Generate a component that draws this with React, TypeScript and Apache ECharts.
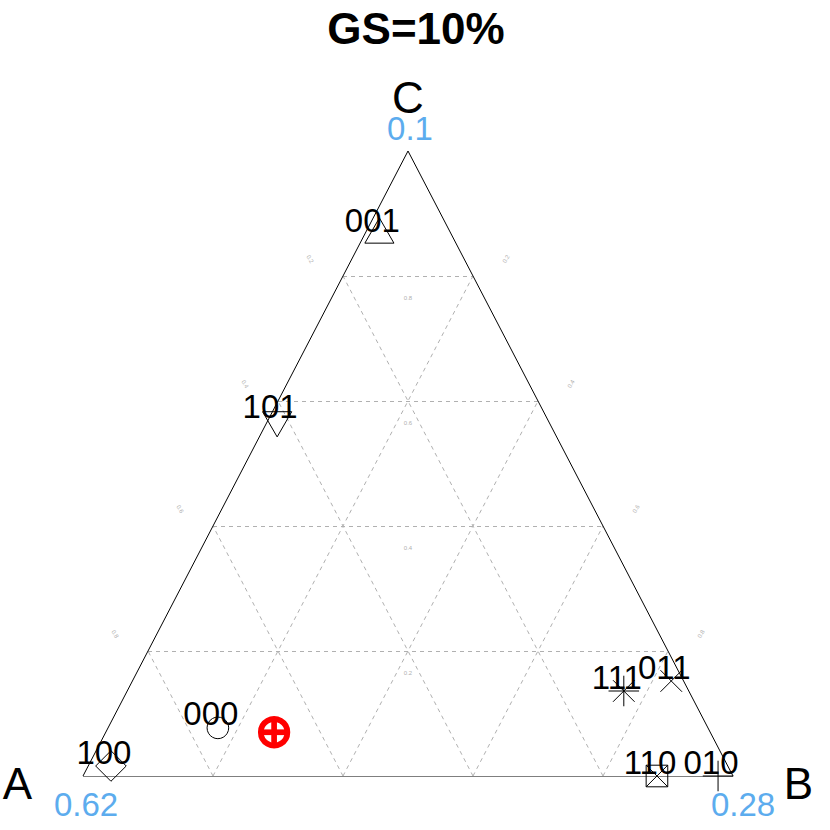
import React, { useEffect, useRef } from 'react';
import * as echarts from 'echarts';

// ---- data ----
const titleText = 'GS=10%';
const vertexNames = ['A', 'B', 'C'];
const vertexValues = ['0.62', '0.28', '0.1'];
const gridLevels = [0.2, 0.4, 0.6, 0.8];
const tickLabels = ['0.2', '0.4', '0.6', '0.8'];

const pointNames = ['100', '000', '101', '001', '111', '011', '110', '010'];
const pointA = [0.949, 0.754, 0.417, 0.111, 0.1, 0.019, 0.117, 0.023];
const pointB = [0.035, 0.169, 0.014, 0.023, 0.764, 0.829, 0.883, 0.977];
const pointC = [0.016, 0.077, 0.57, 0.866, 0.136, 0.152, 0.0, 0.0];
const pointPch = [5, 1, 6, 2, 8, 4, 7, 3];

const targetA = [0.671];
const targetB = [0.259];
const targetC = [0.07];

const FONT = '"Liberation Sans", Arial, Helvetica, sans-serif';
const BLUE = '#5CACEE';

function toXY(a: number, b: number, c: number): [number, number] {
  const s = a + b + c;
  return [(b + c / 2) / s, c / s];
}

function seg(p: [number, number], q: [number, number]) {
  return { coords: [p, q] };
}

const gridSegments: any[] = [];
gridLevels.forEach((k) => {
  gridSegments.push(seg(toXY(1 - k, 0, k), toXY(0, 1 - k, k)));
  gridSegments.push(seg(toXY(k, 1 - k, 0), toXY(k, 0, 1 - k)));
  gridSegments.push(seg(toXY(1 - k, k, 0), toXY(0, k, 1 - k)));
});

const outlineSegments = [
  seg(toXY(1, 0, 0), toXY(0, 1, 0)),
  seg(toXY(0, 1, 0), toXY(0, 0, 1)),
  seg(toXY(0, 0, 1), toXY(1, 0, 0)),
];

const R0 = 10.8;
const SQ2 = Math.SQRT2;

function ln(x1: number, y1: number, x2: number, y2: number, stroke = '#000', lw = 1) {
  return { type: 'line', shape: { x1, y1, x2, y2 }, style: { stroke, lineWidth: lw } };
}
function cross(px: number, py: number, h: number, stroke = '#000', lw = 1) {
  return [ln(px - h, py - h, px + h, py + h, stroke, lw), ln(px - h, py + h, px + h, py - h, stroke, lw)];
}
function plus(px: number, py: number, h: number, stroke = '#000', lw = 1) {
  return [ln(px - h, py, px + h, py, stroke, lw), ln(px, py - h, px, py + h, stroke, lw)];
}
const outline = { fill: 'none', stroke: '#000', lineWidth: 1 };

function pchShape(pch: number, px: number, py: number): any[] {
  const r = R0;
  switch (pch) {
    case 1:
      return [{ type: 'circle', shape: { cx: px, cy: py, r }, style: outline }];
    case 2:
      return [{ type: 'polygon', shape: { points: [[px, py - 1.555 * r], [px + 1.347 * r, py + 0.778 * r], [px - 1.347 * r, py + 0.778 * r]] }, style: outline }];
    case 3:
      return plus(px, py, r * SQ2);
    case 4:
      return cross(px, py, r);
    case 5: {
      const d = r * SQ2;
      return [{ type: 'polygon', shape: { points: [[px, py - d], [px + d, py], [px, py + d], [px - d, py]] }, style: outline }];
    }
    case 6:
      return [{ type: 'polygon', shape: { points: [[px, py + 1.555 * r], [px + 1.347 * r, py - 0.778 * r], [px - 1.347 * r, py - 0.778 * r]] }, style: outline }];
    case 7:
      return [{ type: 'rect', shape: { x: px - r, y: py - r, width: 2 * r, height: 2 * r }, style: outline }, ...cross(px, py, r)];
    case 8:
      return [...cross(px, py, r), ...plus(px, py, r * SQ2)];
    default:
      return [];
  }
}

const pointData = pointNames.map((_, i) => {
  const [x, y] = toXY(pointA[i], pointB[i], pointC[i]);
  return [x, y, pointPch[i], i];
});

const targetData = targetA.map((a, i) => {
  const [x, y] = toXY(a, targetB[i], targetC[i]);
  return [x, y];
});

// tick label anchors: group 0 = left (A), 1 = right (B), 2 = centre (C)
const tickData: any[] = [];
gridLevels.forEach((k, i) => {
  const l = toXY(k, 0, 1 - k);
  tickData.push([l[0], l[1], i, 0]);
  const r = toXY(0, k, 1 - k);
  tickData.push([r[0], r[1], i, 1]);
  const c = toXY((1 - k) / 2, (1 - k) / 2, k);
  tickData.push([c[0], c[1], i, 2]);
});

export default function App() {
  const ref = useRef<HTMLDivElement>(null);
  useEffect(() => {
    document.body.style.margin = '0';
    if (!ref.current) return;
    const chart = echarts.init(ref.current, undefined, { renderer: 'svg' });
    const option: any = {
      animation: false,
      backgroundColor: '#fff',
      grid: { left: 83, top: 151, width: 650, height: 625, containLabel: false },
      xAxis: { type: 'value', min: 0, max: 1, show: false },
      yAxis: { type: 'value', min: 0, max: 1, show: false },
      series: [
        {
          type: 'lines',
          coordinateSystem: 'cartesian2d',
          data: gridSegments,
          silent: true,
          z: 1,
          lineStyle: { color: '#b0b0b0', width: 1, type: [4, 4], opacity: 1 },
        },
        {
          type: 'lines',
          coordinateSystem: 'cartesian2d',
          data: outlineSegments,
          silent: true,
          z: 2,
          lineStyle: { color: '#000', width: 1, type: 'solid', opacity: 1 },
        },
        {
          type: 'custom',
          coordinateSystem: 'cartesian2d',
          data: tickData,
          silent: true,
          z: 3,
          renderItem: (params: any, api: any) => {
            const p = api.coord([api.value(0), api.value(1)]);
            const idx = api.value(2);
            const g = api.value(3);
            let dx = 0, dy = 0, rot = 0;
            if (g === 0) { dx = -33; dy = -17; rot = -Math.PI / 3; }
            else if (g === 1) { dx = 33; dy = -17; rot = Math.PI / 3; }
            else { dx = 0; dy = 22; rot = 0; }
            return {
              type: 'text',
              x: p[0] + dx,
              y: p[1] + dy,
              rotation: rot,
              style: { text: tickLabels[idx], fontSize: 6, fill: '#b0b0b0', align: 'center', verticalAlign: 'middle', fontFamily: FONT },
            };
          },
        },
        {
          type: 'custom',
          coordinateSystem: 'cartesian2d',
          data: pointData,
          silent: true,
          z: 4,
          renderItem: (params: any, api: any) => {
            const p = api.coord([api.value(0), api.value(1)]);
            const pch = api.value(2);
            const idx = api.value(3);
            return {
              type: 'group',
              children: [
                ...pchShape(pch, p[0], p[1]),
                {
                  type: 'text',
                  x: p[0] - 7,
                  y: p[1] - 14,
                  style: { text: pointNames[idx], fontSize: 33, fill: '#000', align: 'center', verticalAlign: 'middle', fontFamily: FONT },
                },
              ],
            };
          },
        },
        {
          type: 'custom',
          coordinateSystem: 'cartesian2d',
          data: targetData,
          silent: true,
          z: 5,
          renderItem: (params: any, api: any) => {
            const p = api.coord([api.value(0), api.value(1)]);
            const r = 13.3;
            const lw = 5.7;
            return {
              type: 'group',
              children: [
                { type: 'circle', shape: { cx: p[0], cy: p[1], r }, style: { fill: 'none', stroke: '#ff0000', lineWidth: lw } },
                ...plus(p[0], p[1], r, '#ff0000', lw),
              ],
            };
          },
        },
      ],
      graphic: [
        { type: 'text', x: 416, y: 28, style: { text: titleText, fontSize: 44, fontWeight: 'bold', fill: '#000', align: 'center', verticalAlign: 'middle', fontFamily: FONT } },
        { type: 'text', x: 17.5, y: 783.5, style: { text: vertexNames[0], fontSize: 44, fill: '#000', align: 'center', verticalAlign: 'middle', fontFamily: FONT } },
        { type: 'text', x: 798.5, y: 783.5, style: { text: vertexNames[1], fontSize: 44, fill: '#000', align: 'center', verticalAlign: 'middle', fontFamily: FONT } },
        { type: 'text', x: 408, y: 97, style: { text: vertexNames[2], fontSize: 44, fill: '#000', align: 'center', verticalAlign: 'middle', fontFamily: FONT } },
        { type: 'text', x: 86, y: 804, style: { text: vertexValues[0], fontSize: 33, fill: BLUE, align: 'center', verticalAlign: 'middle', fontFamily: FONT } },
        { type: 'text', x: 743, y: 804, style: { text: vertexValues[1], fontSize: 33, fill: BLUE, align: 'center', verticalAlign: 'middle', fontFamily: FONT } },
        { type: 'text', x: 410, y: 128.5, style: { text: vertexValues[2], fontSize: 33, fill: BLUE, align: 'center', verticalAlign: 'middle', fontFamily: FONT } },
      ],
    };
    chart.setOption(option);
    return () => chart.dispose();
  }, []);
  return <div ref={ref} style={{ width: 830, height: 830 }} />;
}
